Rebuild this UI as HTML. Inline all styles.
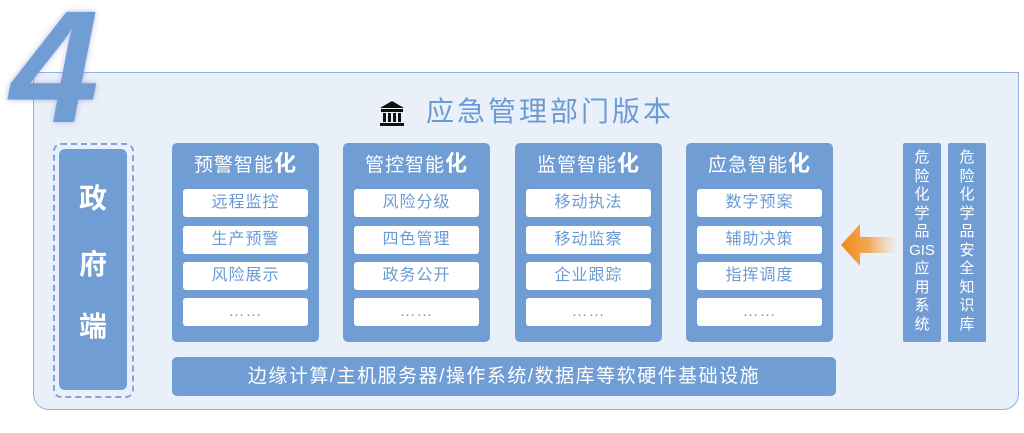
<!DOCTYPE html>
<html><head><meta charset="utf-8"><style>
*{margin:0;padding:0;box-sizing:border-box}
body{width:1024px;height:433px;background:#fff;position:relative;overflow:hidden;font-family:"Liberation Sans","Noto Sans CJK SC",sans-serif}
.abs{position:absolute}
.outer{left:33px;top:72px;width:986px;height:338px;background:#eaf0f9;border:1.5px solid #93b3df;border-radius:0 0 16px 16px}
.four{left:10px;top:-13px;font-size:160px;font-weight:bold;font-style:italic;color:#6f9dd4;line-height:1;text-shadow:0 0 6px rgba(120,120,200,.5)}
.title{left:426px;top:94px;font-size:28px;color:#6b9bd3;letter-spacing:3px;line-height:36px}
.col{width:147px;height:199px;top:143px;background:#6f9dd4;border-radius:5px}
.col h3{color:#fff;font-size:19px;font-weight:normal;text-align:center;margin-top:9px;letter-spacing:1px;line-height:24px}
.col h3 b{font-size:22px}
.item{position:absolute;left:11px;width:125px;height:28px;background:#fff;border-radius:3px;color:#6b9bd3;font-size:16px;text-align:center;line-height:28px;letter-spacing:1px}
.side{top:143px;width:38px;height:199px;background:#6f9dd4;color:#fff;font-size:15px;text-align:center;line-height:18.5px;padding-top:6px;border-radius:2px}
</style></head><body>
<div class="abs outer"></div>
<div class="abs four">4</div>
<svg class="abs" style="left:380px;top:101px" width="24" height="26" viewBox="0 0 24 26"><polygon points="12,0 24,7 0,7" fill="#111"/><rect x="1" y="8" width="22" height="3" fill="#111"/><rect x="3" y="12" width="3" height="9" fill="#111"/><rect x="8" y="12" width="3" height="9" fill="#111"/><rect x="13" y="12" width="3" height="9" fill="#111"/><rect x="18" y="12" width="3" height="9" fill="#111"/><rect x="0" y="22" width="24" height="3" fill="#111"/></svg>
<div class="abs title">应急管理部门版本</div>
<div class="abs" style="left:53px;top:143px;width:81px;height:255px;border:2px dashed #7fa5d9;border-radius:8px"></div>
<div class="abs" style="left:59px;top:149px;width:68px;height:241px;background:#6f9dd4;border-radius:6px;color:#fff;font-size:28px;font-weight:bold;text-align:center">
<div style="position:absolute;top:28px;width:100%">政</div><div style="position:absolute;top:94px;width:100%">府</div><div style="position:absolute;top:156px;width:100%">端</div></div>

<div class="abs col" style="left:172px"><h3>预警智能<b>化</b></h3>
<div class="item" style="top:46px">远程监控</div><div class="item" style="top:83px">生产预警</div><div class="item" style="top:119px">风险展示</div><div class="item" style="top:155px">……</div></div>
<div class="abs col" style="left:343px"><h3>管控智能<b>化</b></h3>
<div class="item" style="top:46px">风险分级</div><div class="item" style="top:83px">四色管理</div><div class="item" style="top:119px">政务公开</div><div class="item" style="top:155px">……</div></div>
<div class="abs col" style="left:515px"><h3>监管智能<b>化</b></h3>
<div class="item" style="top:46px">移动执法</div><div class="item" style="top:83px">移动监察</div><div class="item" style="top:119px">企业跟踪</div><div class="item" style="top:155px">……</div></div>
<div class="abs col" style="left:686px"><h3>应急智能<b>化</b></h3>
<div class="item" style="top:46px">数字预案</div><div class="item" style="top:83px">辅助决策</div><div class="item" style="top:119px">指挥调度</div><div class="item" style="top:155px">……</div></div>

<div class="abs" style="left:172px;top:357px;width:664px;height:39px;background:#6f9dd4;border-radius:5px;color:#fff;font-size:19px;text-align:center;line-height:39px;letter-spacing:1.5px">边缘计算/主机服务器/操作系统/数据库等软硬件基础设施</div>

<svg class="abs" style="left:838px;top:220px" width="60" height="50"><defs><linearGradient id="g" x1="0" x2="1"><stop offset="0" stop-color="#f08a1c"/><stop offset=".5" stop-color="#f4a955"/><stop offset="1" stop-color="#f6c89a" stop-opacity="0"/></linearGradient></defs><polygon points="3,25 22,4 22,17 60,17 60,33 22,33 22,46" fill="url(#g)"/></svg>

<div class="abs side" style="left:903px">危<br>险<br>化<br>学<br>品<br>GIS<br>应<br>用<br>系<br>统</div>
<div class="abs side" style="left:948px">危<br>险<br>化<br>学<br>品<br>安<br>全<br>知<br>识<br>库</div>
</body></html>
